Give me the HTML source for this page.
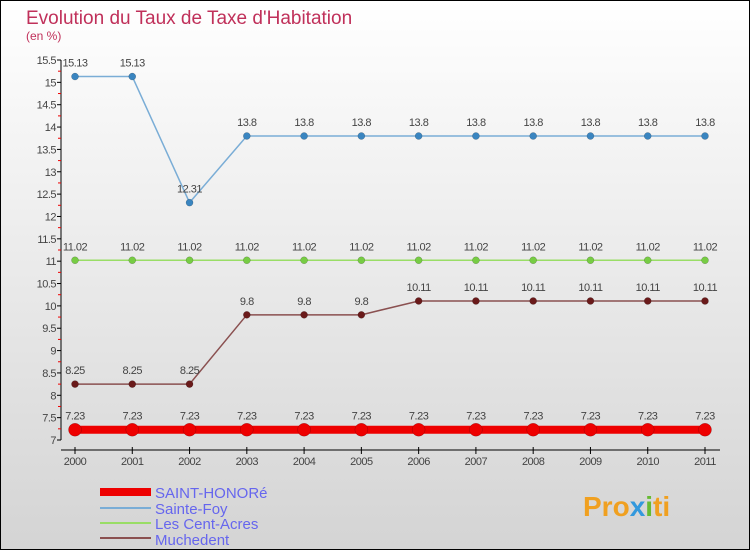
<!DOCTYPE html>
<html><head><meta charset="utf-8"><style>
body{margin:0}
svg{display:block;font-family:"Liberation Sans",sans-serif}
</style></head><body>
<svg width="750" height="550" xmlns="http://www.w3.org/2000/svg">
<defs><linearGradient id="bg" x1="0" y1="0" x2="0" y2="1"><stop offset="0" stop-color="#ffffff"/><stop offset="1" stop-color="#d4d4d4"/></linearGradient></defs>
<rect x="0.5" y="0.5" width="749" height="549" fill="url(#bg)" stroke="#000"/>
<text x="26" y="24" font-size="19" fill="#c0305a">Evolution du Taux de Taxe d'Habitation</text>
<text x="26" y="40" font-size="12" fill="#c0305a">(en %)</text>
<g id="axes"></g>
<g id="series"></g>
<g>
<rect x="100" y="488" width="51" height="8" fill="#e00"/>
<text x="155" y="498" font-size="15" fill="#6666ee">SAINT-HONORé</text>
<line x1="100" y1="508" x2="151" y2="508" stroke="#7aadd6" stroke-width="2"/>
<text x="155" y="514" font-size="15" fill="#6666ee">Sainte-Foy</text>
<line x1="100" y1="523" x2="151" y2="523" stroke="#99dd66" stroke-width="2"/>
<text x="155" y="529" font-size="15" fill="#6666ee">Les Cent-Acres</text>
<line x1="100" y1="538" x2="151" y2="538" stroke="#8a5050" stroke-width="2"/>
<text x="155" y="545" font-size="15" fill="#6666ee">Muchedent</text>
</g>
<text x="583" y="516" font-size="28" font-weight="bold" fill="#f0a020">Pro<tspan fill="#3399dd">x</tspan><tspan fill="#66bb33">i</tspan>ti</text>
</svg>
<script>
const years=[2000,2001,2002,2003,2004,2005,2006,2007,2008,2009,2010,2011];
const yTicks=[7,7.5,8,8.5,9,9.5,10,10.5,11,11.5,12,12.5,13,13.5,14,14.5,15,15.5];
const saintHonore=[7.23,7.23,7.23,7.23,7.23,7.23,7.23,7.23,7.23,7.23,7.23,7.23];
const sainteFoy=[15.13,15.13,12.31,13.8,13.8,13.8,13.8,13.8,13.8,13.8,13.8,13.8];
const centAcres=[11.02,11.02,11.02,11.02,11.02,11.02,11.02,11.02,11.02,11.02,11.02,11.02];
const muchedent=[8.25,8.25,8.25,9.8,9.8,9.8,10.11,10.11,10.11,10.11,10.11,10.11];
const NS="http://www.w3.org/2000/svg";
const xs=i=>75+i*(630/(years.length-1));
const ys=v=>440-(v-7)*(380/8.5);
function mk(t,a,p){const e=document.createElementNS(NS,t);for(const k in a)e.setAttribute(k,a[k]);p.appendChild(e);return e;}
const ax=document.getElementById('axes');
let yl=mk('line',{x1:61,y1:ys(15.5),x2:61,y2:440,stroke:'#000'},ax);


yTicks.forEach(v=>{const y=ys(v);
 mk('line',{x1:57,y1:y,x2:61,y2:y,stroke:'#000'},ax);
 if(v<15.5)mk('line',{x1:58,y1:y-22.35/2,x2:61,y2:y-22.35/2,stroke:'#e00'},ax);
 const t=mk('text',{x:56,y:y+4,'font-size':11,fill:'#444','text-anchor':'end','letter-spacing':'-0.5'},ax);t.textContent=v;
 
 
});
let xl=mk('line',{x1:61,y1:450,x2:720,y2:450,stroke:'#000'},ax);


years.forEach((yr,i)=>{const x=xs(i);
 mk('line',{x1:x,y1:447,x2:x,y2:454,stroke:'#000'},ax);
 const t=mk('text',{x:x,y:465,'font-size':11,fill:'#444','text-anchor':'middle','letter-spacing':'-0.5'},ax);t.textContent=yr;
 
 
});
const sg=document.getElementById('series');
function series(name,data,color,w,r,dot){
 const g=mk('g',{},sg);
 
 
 mk('polyline',{points:data.map((v,i)=>xs(i)+','+ys(v)).join(' '),fill:'none',stroke:color,'stroke-width':w},g);
 data.forEach((v,i)=>{
  mk('circle',{cx:xs(i),cy:ys(v),r:r,fill:dot,stroke:'rgba(0,0,0,0.3)','stroke-width':0.5},g);
  const t=mk('text',{x:xs(i),y:ys(v)-10,'font-size':11,fill:'#444','text-anchor':'middle','letter-spacing':'-0.5'},g);t.textContent=v;
 });
}
series('series-sainte-foy',sainteFoy,'#7aadd6',1.5,3.5,'#3a85c0');
series('series-les-cent-acres',centAcres,'#99dd66',1.5,3.5,'#77cc44');
series('series-muchedent',muchedent,'#8a5050',1.5,3.5,'#6a1a1a');
series('series-saint-honore',saintHonore,'#ee0000',8,6.5,'#ee0000');
</script>
</body></html>
